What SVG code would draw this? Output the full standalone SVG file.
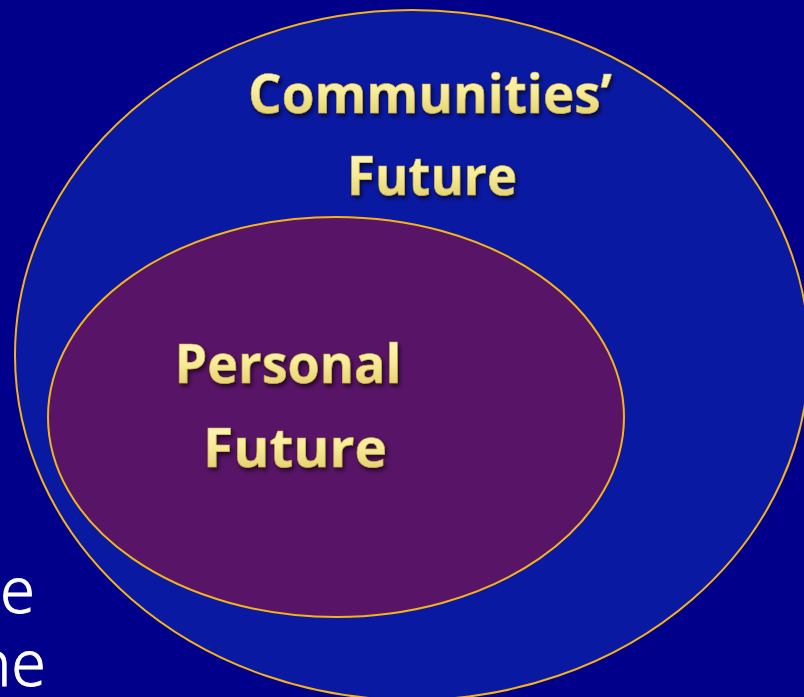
<svg xmlns="http://www.w3.org/2000/svg" width="804" height="697" viewBox="0 0 804 697">
<defs>
<linearGradient id="txt" x1="0" y1="0" x2="0" y2="1">
<stop offset="0" stop-color="#FFFCD0"/>
<stop offset="0.5" stop-color="#F7EC98"/>
<stop offset="1" stop-color="#D9C25A"/>
</linearGradient>
<filter id="sh" x="-10%" y="-20%" width="120%" height="150%">
<feGaussianBlur in="SourceAlpha" stdDeviation="2"/>
<feOffset dx="2" dy="3" result="b"/>
<feFlood flood-color="#000000" flood-opacity="0.6"/>
<feComposite in2="b" operator="in"/>
<feMerge><feMergeNode/><feMergeNode in="SourceGraphic"/></feMerge>
</filter>
</defs>
<style>
.lbl{font-family:"Open Sans","Liberation Sans",sans-serif;font-weight:bold;font-size:54px;fill:url(#txt);stroke:#C9A93A;stroke-width:0.6;text-anchor:middle;filter:url(#sh)}
.side{font-family:"Noto Sans","DejaVu Sans",sans-serif;font-weight:300;font-size:64px;fill:#FFFFFF;stroke:#FFFFFF;stroke-width:0.8}
.ring{stroke:#F5B21A;stroke-width:2}
</style>
<rect width="804" height="697" fill="#00008A"/>
<g id="side-text">
<text class="side" x="0" y="613" textLength="35" lengthAdjust="spacingAndGlyphs">e</text>
<text class="side" x="-26" y="686" textLength="72" lengthAdjust="spacingAndGlyphs">ne</text>
</g>
<g id="communities">
<ellipse class="ring" cx="412" cy="355" rx="397" ry="345" fill="#0A19A1"/>
<text class="lbl" x="430" y="113" textLength="364" lengthAdjust="spacingAndGlyphs">Communities’</text>
<text class="lbl" x="432" y="195" textLength="170" lengthAdjust="spacingAndGlyphs">Future</text>
</g>
<g id="personal">
<ellipse class="ring" cx="336" cy="417" rx="288" ry="200" fill="#581466"/>
<text class="lbl" x="288" y="383" textLength="227" lengthAdjust="spacingAndGlyphs">Personal</text>
<text class="lbl" x="295" y="467" textLength="184" lengthAdjust="spacingAndGlyphs">Future</text>
</g>
<g id="connectors"/>
</svg>
